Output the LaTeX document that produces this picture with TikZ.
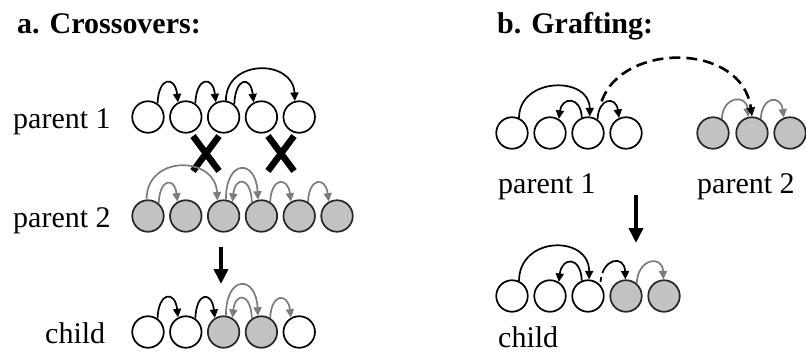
\documentclass[tikz,border=0pt]{standalone}
\usepackage{fontspec}
\setmainfont{Liberation Serif}
\usetikzlibrary{arrows.meta,calc}

\definecolor{genefill}{HTML}{C2C2C2}
\definecolor{linkgray}{HTML}{7C7C7C}

\tikzset{
  gene/.style={circle, draw=black, line width=1.7pt, minimum size=31.5pt, inner sep=0pt, fill=white},
  grafted/.style={gene, fill=genefill, draw=black!85},
  lnk/.style={line width=1.7pt, -{Triangle[length=8.5pt,width=8pt]}},
  lnkg/.style={lnk, draw=linkgray},
  graft/.style={line width=2.6pt, dash pattern=on 11pt off 6pt, -{Triangle[length=9pt,width=8pt]}},
  bigarrow/.style={line width=4pt, -{Triangle[length=15pt,width=14pt]}},
  cross/.style={line width=6.5pt},
  lbl/.style={anchor=base west, inner sep=0pt, font=\fontsize{30}{36}\selectfont},
  ttl/.style={anchor=base west, inner sep=0pt, font=\fontsize{30}{36}\selectfont\bfseries},
}

\begin{document}
\begin{tikzpicture}[x=1pt, y=-1pt]
\useasboundingbox (0,0) rectangle (806,353);

% ---------- a. Crossovers ----------
\node[ttl] (ta) at (17,34) {a. Crossovers:};

\node[lbl] (la1) at (13,128) {parent 1};
\node[lbl] (la2) at (13,227) {parent 2};
\node[lbl] (lac) at (45,343) {child};

% parent 1
\foreach \i in {1,...,5} {
  \node[gene] (a\i) at ({148+37.8*(\i-1)},117) {};
}
% parent 2
\foreach \i in {1,...,6} {
  \node[grafted] (b\i) at ({148+37.8*(\i-1)},216) {};
}
% child
\node[gene]    (c1) at (148,332) {};
\node[gene]    (c2) at (185.8,332) {};
\node[grafted] (c3) at (223.6,332) {};
\node[grafted] (c4) at (261.4,332) {};
\node[gene]    (c5) at (299.2,332) {};

% links of parent 1
\draw[lnk] (a1.55) .. controls +(1,-27) and +(-3,-27) .. (a2.118);
\draw[lnk] (a2.55) .. controls +(1,-27) and +(-3,-27) .. (a3.118);
\draw[lnk] (a3.50) .. controls +(1,-27) and +(-3,-27) .. (a4.118);
\draw[lnk] (a3.82) .. controls +(0,-42) and +(-2,-42) .. (a5.105);

% crossover points
\draw[cross] (193,136) -- (219,171) (219,136) -- (193,171);
\draw[cross] (268,136) -- (294,171) (294,136) -- (268,171);

% links of parent 2
\draw[lnkg] (b1.95) .. controls +(0,-45) and +(-2,-45) .. (b3.112);
\draw[lnkg] (b1.50) .. controls +(1,-25) and +(-3,-25) .. (b2.120);
\draw[lnkg] (b3.82) .. controls +(0,-41) and +(-2,-41) .. (b4.102);
\draw[lnkg] (b4.125) .. controls +(-1,-26) and +(3,-26) .. (b3.58);
\draw[lnkg] (b4.58) .. controls +(1,-25) and +(-3,-25) .. (b5.120);
\draw[lnkg] (b5.58) .. controls +(1,-25) and +(-3,-25) .. (b6.120);

% crossover result
\coordinate (da0) at (221,247);
\coordinate (da1) at (221,284);
\draw[bigarrow] (da0) -- (da1);

% links of child
\draw[lnk] (c1.55) .. controls +(1,-27) and +(-3,-27) .. (c2.118);
\draw[lnk] (c2.55) .. controls +(1,-27) and +(-3,-27) .. (c3.122);
\draw[lnkg] (c3.82) .. controls +(0,-41) and +(-2,-41) .. (c4.102);
\draw[lnkg] (c4.125) .. controls +(-1,-26) and +(3,-26) .. (c3.58);
\draw[lnkg] (c4.58) .. controls +(1,-25) and +(-3,-25) .. (c5.120);

% ---------- b. Grafting ----------
\node[ttl] (tb) at (497,34) {b. Grafting:};

\node[lbl] (lb1) at (498,193) {parent 1};
\node[lbl] (lb2) at (697,193) {parent 2};
\node[lbl] (lbc) at (498,347) {child};

% parent 1
\foreach \i in {1,...,4} {
  \node[gene] (q\i) at ({512+38*(\i-1)},133) {};
}
% parent 2
\node[grafted] (r1) at (713,133) {};
\node[grafted] (r2) at (752,133) {};
\node[grafted] (r3) at (790,133) {};

\draw[lnk] (q1.65) .. controls +(0,-41) and +(0,-41) .. (q3.84);
\draw[lnk] (q3.112) .. controls +(-1,-22) and +(3,-22) .. (q2.58);
\draw[lnk] (q3.55) .. controls +(1,-22) and +(-3,-22) .. (q4.115);

\draw[lnkg] (r1.58) .. controls +(1,-23) and +(-2,-23) .. (r2.103);
\draw[lnkg] (r2.58) .. controls +(1,-23) and +(-3,-23) .. (r3.112);

% graft link
\draw[graft, shorten <=18pt] (q3.62) .. controls (622,42) and (742,42) .. (r2.90);

% grafting result
\coordinate (db0) at (636,195);
\coordinate (db1) at (636,243);
\draw[bigarrow] (db0) -- (db1);

% child
\node[gene]    (s1) at (512,296) {};
\node[gene]    (s2) at (550,296) {};
\node[gene]    (s3) at (588,296) {};
\node[grafted] (s4) at (626,296) {};
\node[grafted] (s5) at (664,296) {};

\draw[lnk] (s1.65) .. controls +(0,-45) and +(0,-45) .. (s3.86);
\draw[lnk] (s3.112) .. controls +(-1,-25) and +(3,-25) .. (s2.58);
\draw[lnk, dash pattern=on 5pt off 4pt on 60pt, shorten <=3pt] (s3.42) .. controls +(2,-27) and +(-1,-25) .. (s4.92);
\draw[lnkg] (s4.50) .. controls +(1,-25) and +(-1,-25) .. (s5.92);
\end{tikzpicture}
\end{document}
